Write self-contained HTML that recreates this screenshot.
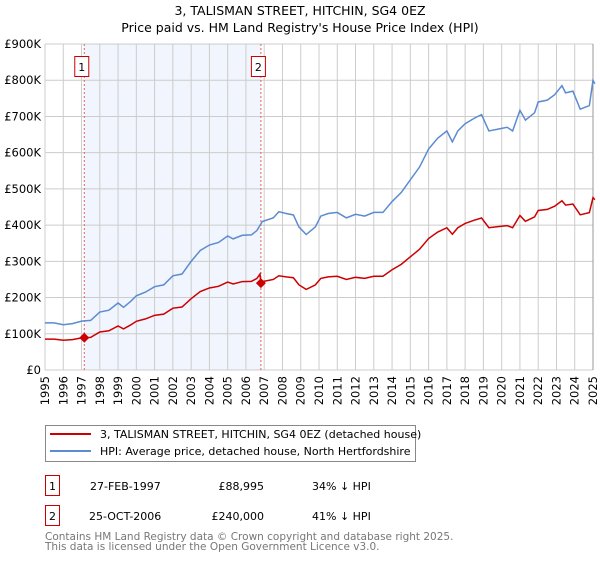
<!DOCTYPE html>
<html><head><meta charset="utf-8"><style>
body{margin:0;background:#fff;width:600px;height:560px;overflow:hidden;font-family:"DejaVu Sans","Liberation Sans",sans-serif}
svg text{font-family:"DejaVu Sans","Liberation Sans",sans-serif}
</style></head><body>
<svg id="chart" width="600" height="560">
<text x="300" y="15" text-anchor="middle" font-size="12.5" fill="#000">3, TALISMAN STREET, HITCHIN, SG4 0EZ</text>
<text x="300" y="32" text-anchor="middle" font-size="12.5" fill="#000">Price paid vs. HM Land Registry's House Price Index (HPI)</text>
<g id="plot"></g>
<rect x="45.5" y="425.5" width="370" height="36" fill="#fff" stroke="#888"/>
<line x1="50" y1="434" x2="91" y2="434" stroke="#cc0000" stroke-width="2"/>
<text x="100" y="438" font-size="11">3, TALISMAN STREET, HITCHIN, SG4 0EZ (detached house)</text>
<line x1="50" y1="451" x2="91" y2="451" stroke="#5b8bd0" stroke-width="2"/>
<text x="100" y="455" font-size="11">HPI: Average price, detached house, North Hertfordshire</text>
<g>
<rect x="45.5" y="475.5" width="14" height="20" fill="#fff" stroke="#cc0000"/>
<text x="52.5" y="490" text-anchor="middle" font-size="11">1</text>
<text x="90" y="490" font-size="11">27-FEB-1997</text>
<text x="264" y="490" text-anchor="end" font-size="11">£88,995</text>
<text x="312" y="490" font-size="11">34% ↓ HPI</text>
</g>
<g>
<rect x="45.5" y="505.5" width="14" height="20" fill="#fff" stroke="#cc0000"/>
<text x="52.5" y="520" text-anchor="middle" font-size="11">2</text>
<text x="89" y="520" font-size="11">25-OCT-2006</text>
<text x="264" y="520" text-anchor="end" font-size="11">£240,000</text>
<text x="312" y="520" font-size="11">41% ↓ HPI</text>
</g>
<text x="45" y="540" font-size="10.5" fill="#777">Contains HM Land Registry data © Crown copyright and database right 2025.</text>
<text x="45" y="550" font-size="10.5" fill="#777">This data is licensed under the Open Government Licence v3.0.</text>
</svg>
<script>
const hpiYears=[1995,1995.5,1996,1996.5,1997,1997.5,1998,1998.5,1999,1999.3,1999.7,2000,2000.5,2001,2001.5,2002,2002.5,2003,2003.5,2004,2004.5,2005,2005.3,2005.8,2006.3,2006.6,2006.9,2007.5,2007.8,2008.2,2008.6,2008.9,2009.3,2009.8,2010.1,2010.5,2011,2011.5,2012,2012.5,2013,2013.5,2014,2014.5,2015,2015.5,2016,2016.5,2017,2017.3,2017.6,2018,2018.5,2018.9,2019.3,2019.8,2020.3,2020.6,2021,2021.3,2021.8,2022,2022.5,2022.9,2023.3,2023.5,2023.9,2024.3,2024.8,2025,2025.1];
const hpiValues=[130,130,125,128,135,137,160,165,185,173,190,205,215,230,235,260,265,300,330,345,352,370,362,372,373,385,410,420,437,432,428,395,374,395,425,432,435,420,430,425,435,435,465,490,525,560,610,640,660,630,660,680,695,705,660,665,670,660,717,690,710,740,745,760,785,765,770,720,730,800,790];
const saleDates=[1997.15,2006.82];
const salePrices=[88.995,240];
const yTicks=[0,100,200,300,400,500,600,700,800,900];
const yTickLabels=["£0","£100K","£200K","£300K","£400K","£500K","£600K","£700K","£800K","£900K"];
const xYears=[1995,1996,1997,1998,1999,2000,2001,2002,2003,2004,2005,2006,2007,2008,2009,2010,2011,2012,2013,2014,2015,2016,2017,2018,2019,2020,2021,2022,2023,2024,2025];
const NS="http://www.w3.org/2000/svg";
const X0=45,X1=593,Y0=370,Y1=44;
const xs=y=>X0+(y-1995)/30*(X1-X0);
const ys=v=>Y0-v/900*(Y0-Y1);
const g=document.getElementById('plot');
function mk(t,a){const e=document.createElementNS(NS,t);for(const k in a)e.setAttribute(k,a[k]);g.appendChild(e);return e;}
const shade=mk('rect',{x:xs(saleDates[0]),y:Y1,width:xs(saleDates[1])-xs(saleDates[0]),height:Y0-Y1,fill:'#eef3fc',opacity:0.8});


yTicks.forEach((v,i)=>{
 const l=mk('line',{x1:X0,x2:X1,y1:ys(v),y2:ys(v),stroke:'#ccc','stroke-width':1});
 
 
 const t=mk('text',{x:X0-4,y:ys(v)+4,'text-anchor':'end','font-size':11.5});
 t.textContent=yTickLabels[i];
 
 
});
xYears.forEach(yr=>{
 const l=mk('line',{x1:xs(yr),x2:xs(yr),y1:Y1,y2:Y0+(yr===2025?0:0),stroke:yr===2025?'#999':'#ccc','stroke-width':1});
 
 
 const t=mk('text',{x:0,y:0,'text-anchor':'end','font-size':11.5,transform:`translate(${xs(yr)+4},${Y0+6}) rotate(-90)`});
 t.textContent=yr;
 
 
});
saleDates.forEach((d,i)=>{
 const l=mk('line',{x1:xs(d),x2:xs(d),y1:Y1,y2:Y0,stroke:'#e06060','stroke-width':1,'stroke-dasharray':'2,2'});
 
 
 const r=mk('rect',{x:xs(d)-9.5,y:56.5,width:14,height:20,fill:'#fff',stroke:'#cc0000'});
 
 
 const t=mk('text',{x:xs(d)-2.5,y:71,'text-anchor':'middle','font-size':11});
 t.textContent=i+1;
 
 
});
function hpiAt(d){for(let i=1;i<hpiYears.length;i++){if(hpiYears[i]>=d){const f=(d-hpiYears[i-1])/(hpiYears[i]-hpiYears[i-1]);return hpiValues[i-1]+f*(hpiValues[i]-hpiValues[i-1]);}}return hpiValues[hpiValues.length-1];}
const ratios=saleDates.map((d,i)=>salePrices[i]/hpiAt(d));
const pts=[];const rpts=[];
hpiYears.forEach((yr,i)=>{
 pts.push(xs(yr)+','+ys(hpiValues[i]));
 const r=yr<saleDates[1]?ratios[0]:ratios[1];
 if(yr<saleDates[1]&&i+1<hpiYears.length&&hpiYears[i+1]>=saleDates[1]){
  rpts.push(xs(yr)+','+ys(hpiValues[i]*r));
  rpts.push(xs(saleDates[1]-0.05)+','+ys(hpiAt(saleDates[1])*ratios[0]));
  rpts.push(xs(saleDates[1])+','+ys(salePrices[1]));
 } else rpts.push(xs(yr)+','+ys(hpiValues[i]*r));
});
const hl=mk('polyline',{points:pts.join(' '),fill:'none',stroke:'#5b8bd0','stroke-width':1.5});


const pl=mk('polyline',{points:rpts.join(' '),fill:'none',stroke:'#cc0000','stroke-width':1.5});


saleDates.forEach((d,i)=>{
 const x=xs(d),y=ys(salePrices[i]);
 const m=mk('polygon',{points:`${x},${y-5} ${x+5},${y} ${x},${y+5} ${x-5},${y}`,fill:'#cc0000'});
 
 
});
</script>
</body></html>
